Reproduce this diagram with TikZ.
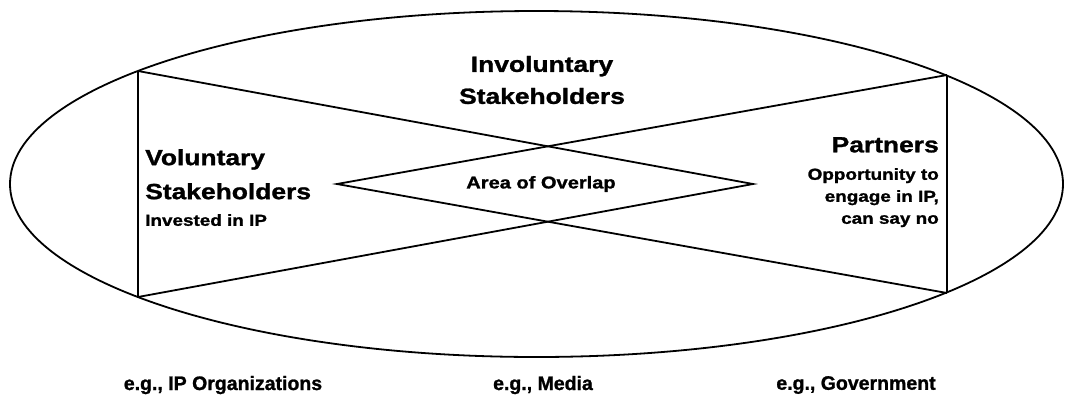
\documentclass[tikz,border=0pt]{standalone}
\usepackage{fontspec}
\setmainfont{Liberation Sans}[BoldFeatures={FakeBold=1.2}]
\usetikzlibrary{shapes.geometric}
\begin{document}
\begin{tikzpicture}[x=1pt,y=-1pt,
  outline/.style={line width=1.8pt,black},
  divider/.style={line width=2.8pt,black},
  bigtext/.style={font=\bfseries\fontsize{22}{26}\selectfont,xscale=1.2,inner sep=0pt},
  smalltext/.style={font=\bfseries\fontsize{16}{22}\selectfont,xscale=1.18,inner sep=0pt},
  exampletext/.style={font=\bfseries\fontsize{19.5}{22}\selectfont,inner sep=0pt}]
  \useasboundingbox (0,0) rectangle (1068,400);

  % outer ellipse
  \node[draw,outline,ellipse,minimum width=1053pt,minimum height=346pt,inner sep=0pt] (oval) at (536.5,184) {};

  % corner points on the ellipse and the two inner vertices
  \coordinate (tl) at (138,71);
  \coordinate (bl) at (138,297);
  \coordinate (tr) at (947,75);
  \coordinate (br) at (947,293);
  \coordinate (lv) at (337,184);
  \coordinate (rv) at (753,184);

  % side dividers
  \draw[divider] (tl) -- (bl);
  \draw[divider] (tr) -- (br);

  % crossing chevrons forming the overlap diamond
  \draw[outline,line join=miter] (tl) -- (rv) -- (bl);
  \draw[outline,line join=miter] (tr) -- (lv) -- (br);

  % labels
  \node[bigtext,align=center] (invol) at (542,80) {Involuntary\\[6pt]Stakeholders};

  \node[bigtext,anchor=north west] (vol1) at (145,149) {Voluntary};
  \node[bigtext,anchor=north west] (vol2) at (145,183) {Stakeholders};
  \node[smalltext,anchor=north west] (vol3) at (145,214) {Invested in IP};

  \node[bigtext,anchor=north east] (part) at (939,137) {Partners};
  \node[smalltext,anchor=north east,align=right] (partdesc) at (939,168) {Opportunity to\\engage in IP,\\can say no};

  \node[font=\bfseries\fontsize{17}{20}\selectfont,xscale=1.18,inner sep=0pt] (overlap) at (541,184) {Area of Overlap};

  \node[exampletext] (ex1) at (223,385) {e.g., IP Organizations};
  \node[exampletext] (ex2) at (543,385) {e.g., Media};
  \node[exampletext] (ex3) at (856,385) {e.g., Government};
\end{tikzpicture}
\end{document}
